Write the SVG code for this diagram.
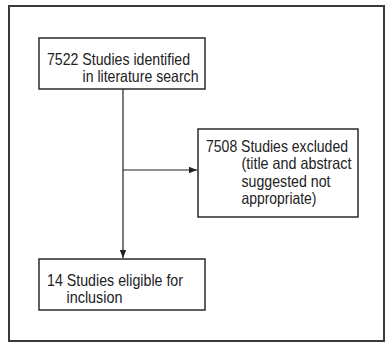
<svg xmlns="http://www.w3.org/2000/svg" width="385" height="343" viewBox="0 0 385 343">
<style>
.frame{fill:none;stroke:#3a3a3a;stroke-width:2}
.box{fill:#fff;stroke:#2a2a2a;stroke-width:1.5}
.t{font-family:"Liberation Sans",Arial,sans-serif;font-size:16.5px;fill:#222}
.c{stroke:#222;stroke-width:1.2;fill:none}
</style>
<defs>
<marker id="ah" viewBox="0 0 8 8" refX="8" refY="4" markerWidth="8" markerHeight="8" markerUnits="userSpaceOnUse" orient="auto">
<path d="M0,0.8 L8,4 L0,7.2 Z" fill="#222"/>
</marker>
</defs>
<rect class="frame" x="9" y="6" width="375" height="335"/>
<g id="connectors">
<line class="c" x1="123" y1="89" x2="123" y2="258" marker-end="url(#ah)"/>
<line class="c" x1="123" y1="170" x2="197" y2="170" marker-end="url(#ah)"/>
</g>
<g id="n1">
<rect class="box" x="39" y="38" width="166" height="51"/>
<text class="t" x="47" y="65" textLength="143" lengthAdjust="spacingAndGlyphs">7522 Studies identified</text>
<text class="t" x="82.5" y="82" textLength="116" lengthAdjust="spacingAndGlyphs">in literature search</text>
</g>
<g id="n2">
<rect class="box" x="198" y="129" width="160" height="88"/>
<text class="t" x="206" y="151.5" textLength="142" lengthAdjust="spacingAndGlyphs">7508 Studies excluded</text>
<text class="t" x="241.5" y="169" textLength="110" lengthAdjust="spacingAndGlyphs">(title and abstract</text>
<text class="t" x="241.5" y="186.5" textLength="89" lengthAdjust="spacingAndGlyphs">suggested not</text>
<text class="t" x="241.5" y="204" textLength="75" lengthAdjust="spacingAndGlyphs">appropriate)</text>
</g>
<g id="n3">
<rect class="box" x="39" y="259" width="166" height="51"/>
<text class="t" x="47" y="286" textLength="136" lengthAdjust="spacingAndGlyphs">14 Studies eligible for</text>
<text class="t" x="66.5" y="303" textLength="56" lengthAdjust="spacingAndGlyphs">inclusion</text>
</g>
</svg>
